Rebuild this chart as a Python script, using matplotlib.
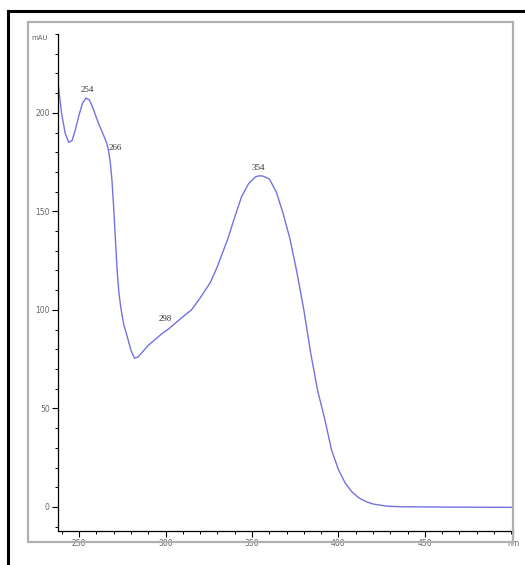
import matplotlib
matplotlib.use("Agg")
import matplotlib.pyplot as plt
from matplotlib.patches import Rectangle
from matplotlib.lines import Line2D
from matplotlib.ticker import MultipleLocator

# UV spectrum (wavelength in nm, absorbance in mAU)
wavelength = [238, 239, 240, 242, 244, 246, 248, 250, 252, 254, 256, 258, 260, 262,
              264, 266, 267, 268, 269, 270, 271, 272, 273, 274, 275, 276, 278,
              280, 282, 284, 286, 290, 294, 298, 302, 306, 310, 315, 320, 326,
              330, 336, 340, 344, 348, 352, 354, 356, 360, 364, 368, 372, 376,
              380, 384, 388, 392, 396, 400, 404, 408, 412, 416, 420, 428, 436,
              450, 470, 501]
absorbance = [214, 206, 199, 189.5, 185, 186, 192, 199, 205, 207.5, 206.5, 202.5, 197.5, 193,
              189, 184.5, 181, 175, 166, 152, 136, 120, 109, 102, 96.5, 92, 86,
              79.5, 75.5, 76, 78, 82, 85, 88, 90.5, 93.5, 96.5, 100, 106, 114,
              122, 136, 147, 157.5, 164, 167.5, 168, 168, 166.5, 160, 149, 136, 119,
              100, 78, 59, 45, 29, 19, 12, 7.5, 4.5, 2.7, 1.5, 0.4, 0.1,
              0, -0.1, -0.2]

peak_labels = ["254", "266", "298", "354"]
peak_x = [254.6, 270.8, 299.8, 353.6]
peak_y = [211.7, 182, 95.4, 172]

xticks = [250, 300, 350, 400, 450, 501]
xtick_labels = ["250", "300", "350", "400", "450", "nm"]
yticks = [0, 50, 100, 150, 200]

W, H = 525, 565
fig = plt.figure(figsize=(W / 100, H / 100), dpi=100)

# outer black border (top and left visible) and grey frame
fig.add_artist(Line2D([7.5 / W, 7.5 / W], [0, 1 - 10.5 / H], color="black", lw=2.2,
                      transform=fig.transFigure))
fig.add_artist(Line2D([7.5 / W, 1], [1 - 10.5 / H, 1 - 10.5 / H], color="black", lw=2.2,
                      transform=fig.transFigure))
fig.add_artist(Rectangle((28 / W, 1 - 542 / H), (513 - 28) / W, (542 - 22) / H,
                         fill=False, edgecolor="#b0b0b0", lw=1.6,
                         transform=fig.transFigure))

ax = fig.add_axes([58 / W, 1 - 531 / H, (513 - 58) / W, (531 - 34) / H])
ax.plot(wavelength, absorbance, color="#7272e2", lw=1.0)

for lab, px, py in zip(peak_labels, peak_x, peak_y):
    ax.text(px, py, lab, fontsize=6.5, family="Liberation Serif", color="#333333",
            ha="center", va="center")

ax.set_xlim(237.8, 501)
ax.set_ylim(-12.2, 240)
ax.set_xticks(xticks)
ax.set_xticklabels(xtick_labels)
ax.set_yticks(yticks)
ax.xaxis.set_minor_locator(MultipleLocator(10))
ax.yaxis.set_minor_locator(MultipleLocator(10))
ax.tick_params(which="major", length=4, width=0.8, labelsize=5.5, labelcolor="#666666",
               pad=2)
ax.tick_params(which="minor", length=2.5, width=0.7)
for s in ["top", "right"]:
    ax.spines[s].set_visible(False)
ax.spines["left"].set_linewidth(0.9)
ax.spines["bottom"].set_linewidth(0.9)

fig.text(40 / W, 1 - 38 / H, "mAU", fontsize=5, color="#666666", ha="center", va="center")

fig.savefig("out.png", dpi=100)
